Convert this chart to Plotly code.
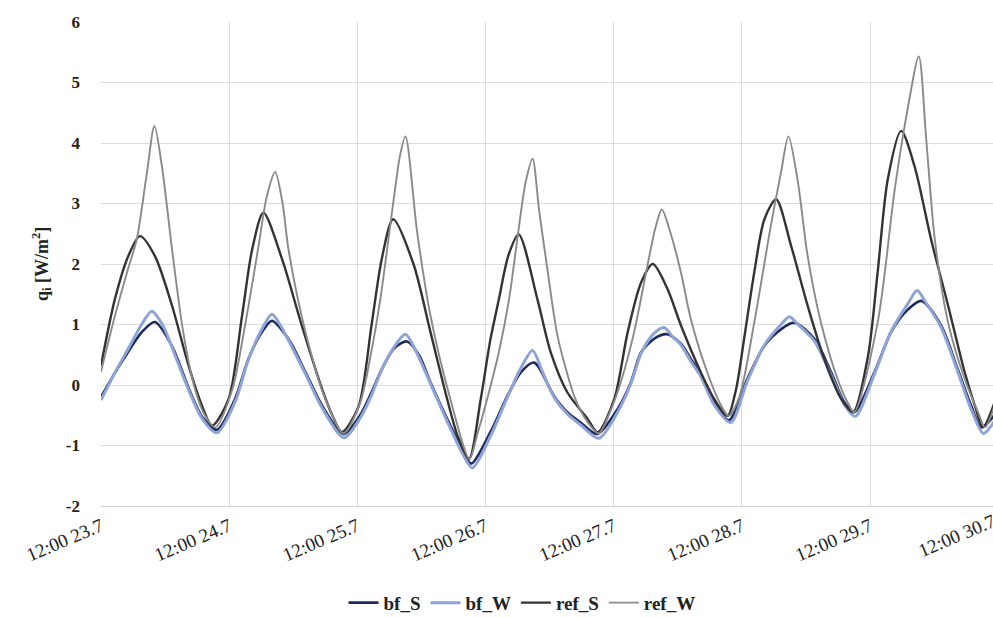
import plotly.graph_objects as go

# time in hours after 12:00 23.7
tick_hours = [0, 24, 48, 72, 96, 120, 144]
tick_labels = ["12:00 23.7", "12:00 24.7", "12:00 25.7", "12:00 26.7",
               "12:00 27.7", "12:00 28.7", "12:00 29.7"]
last_tick_label = "12:00 30.7"
x_end = 167.0
y_ticks = [-2, -1, 0, 1, 2, 3, 4, 5, 6]
y_tick_text = ["-2", "-1", "0", "1", "2", "3", "4", "5", "6"]
y_title = "q<sub>i</sub> [W/m<sup>2</sup>]"

bf_S_t = [0, 2.6, 5.1, 7.6, 10.1, 13.3, 16.4, 18.9, 21.7,
          25.1, 27.6, 30.1, 32.0, 35.1, 38.3, 41.4, 45.4,
          48.5, 50.5, 52.3, 54.8, 57.3, 59.5, 61.7, 64.8, 67.9, 69.3,
          72.9, 76.1, 78.6, 81.1, 84.8, 87.3, 89.8, 92.9,
          96.7, 99.2, 101.1, 103.8, 106.0, 108.6, 110.5, 112.3, 114.8, 117.6,
          121.0, 124.2, 127.3, 129.8, 133.6, 136.7, 139.2, 141.0,
          144.8, 147.9, 151.1, 153.6, 157.3, 160.4, 162.9, 164.8, 167.25]
bf_S_v = [-0.20, 0.20, 0.55, 0.87, 1.04, 0.64, -0.05, -0.52, -0.74,
          -0.23, 0.43, 0.87, 1.06, 0.76, 0.21, -0.34, -0.81,
          -0.50, -0.15, 0.21, 0.60, 0.72, 0.50, 0.04, -0.56, -1.11, -1.30,
          -0.78, -0.18, 0.21, 0.37, -0.18, -0.45, -0.62, -0.81,
          -0.40, 0.04, 0.54, 0.78, 0.84, 0.68, 0.42, 0.18, -0.29, -0.58,
          0.10, 0.65, 0.92, 1.03, 0.76, 0.21, -0.29, -0.45,
          0.21, 0.87, 1.25, 1.39, 0.98, 0.26, -0.34, -0.70, -0.50]

bf_W_t = [0, 2.6, 5.1, 7.6, 9.5, 11.5, 13.3, 16.4, 18.9, 21.7,
          25.1, 27.6, 30.1, 32.0, 33.5, 35.1, 38.3, 41.4, 45.5,
          48.5, 50.5, 52.3, 54.8, 57.0, 59.0, 61.7, 64.8, 67.9, 69.5,
          72.9, 76.1, 78.6, 80.8, 82.5, 84.8, 87.3, 89.8, 93.2,
          96.7, 99.2, 101.1, 103.5, 105.4, 107.0, 108.6, 110.5, 112.3, 114.8, 117.9,
          121.0, 124.2, 127.3, 128.9, 130.5, 133.6, 136.7, 139.2, 141.2,
          144.8, 147.9, 151.1, 152.8, 154.3, 157.3, 160.4, 162.9, 165.2, 167.25]
bf_W_v = [-0.25, 0.20, 0.60, 1.00, 1.22, 1.00, 0.62, -0.08, -0.55, -0.79,
          -0.28, 0.42, 0.92, 1.17, 1.00, 0.74, 0.18, -0.38, -0.87,
          -0.55, -0.20, 0.20, 0.62, 0.84, 0.55, 0.02, -0.60, -1.17, -1.37,
          -0.85, -0.20, 0.28, 0.57, 0.25, -0.20, -0.48, -0.66, -0.88,
          -0.45, 0.02, 0.52, 0.85, 0.95, 0.80, 0.66, 0.38, 0.14, -0.33, -0.62,
          0.06, 0.66, 1.00, 1.13, 1.00, 0.72, 0.16, -0.33, -0.52,
          0.18, 0.88, 1.35, 1.56, 1.38, 0.95, 0.22, -0.40, -0.80, -0.60]

ref_S_t = [0, 2.6, 5.1, 7.3, 10.1, 13.3, 16.4, 18.9, 20.8,
           23.9, 26.4, 28.3, 30.4, 33.9, 37.6, 41.4, 43.3, 45.1,
           48.2, 50.7, 52.6, 54.7, 58.5, 61.7, 64.8, 66.8, 68.9,
           71.1, 72.9, 74.5, 76.3, 78.2, 81.7, 84.2, 87.3, 91.1, 93.0,
           96.1, 98.6, 101.1, 103.3, 106.0, 108.6, 112.3, 114.8, 117.3,
           118.9, 120.4, 122.3, 124.2, 126.4, 129.2, 132.3, 135.4, 138.6, 140.8,
           143.6, 145.4, 147.3, 149.8, 152.3, 155.4, 158.6, 161.7, 163.6, 165.1, 167.25]
ref_S_v = [0.32, 1.42, 2.13, 2.46, 2.13, 1.31, 0.32, -0.34, -0.67,
           -0.23, 1.14, 2.24, 2.85, 2.08, 0.98, -0.07, -0.50, -0.78,
           -0.36, 1.02, 2.10, 2.74, 2.00, 0.87, -0.23, -0.85, -1.22,
           -0.23, 0.75, 1.42, 2.15, 2.49, 1.42, 0.54, -0.12, -0.56, -0.78,
           -0.23, 0.87, 1.69, 2.00, 1.60, 0.98, 0.21, -0.23, -0.51,
           -0.07, 0.76, 1.86, 2.74, 3.07, 2.30, 1.31, 0.43, -0.23, -0.45,
           0.48, 1.86, 3.40, 4.20, 3.62, 2.41, 1.31, 0.21, -0.34, -0.70, -0.30]

ref_W_t = [0, 2.6, 5.0, 6.7, 8.6, 10.0, 11.4, 13.3, 15.4, 17.6, 19.5, 21.4,
           24.5, 27.0, 29.5, 31.0, 32.6, 34.0, 35.1, 38.3, 42.0, 45.4,
           48.5, 50.5, 52.3, 54.8, 56.0, 57.0, 59.2, 61.7, 65.4, 69.0,
           70.5, 72.3, 74.5, 76.4, 78.0, 79.5, 80.8, 82.0, 83.6, 85.5, 88.8, 91.0, 93.2,
           95.5, 97.5, 99.8, 102.3, 103.8, 105.0, 106.5, 108.6, 110.4, 113.5, 116.1, 117.5,
           119.5, 122.3, 125.4, 127.3, 128.7, 130.4, 132.3, 134.8, 137.9, 139.8, 141.0,
           145.4, 148.6, 151.1, 153.1, 154.5, 156.1, 158.6, 161.7, 164.2, 165.5, 167.25]
ref_W_v = [0.22, 1.14, 1.90, 2.41, 3.51, 4.28, 3.62, 2.24, 0.87, -0.07, -0.51, -0.70,
           -0.10, 1.00, 2.30, 3.10, 3.52, 3.00, 2.24, 0.87, -0.23, -0.80,
           -0.30, 0.50, 1.42, 3.07, 3.80, 4.11, 2.52, 1.14, -0.23, -1.22,
           -0.80, -0.23, 0.55, 1.42, 2.45, 3.35, 3.74, 2.90, 1.90, 0.80, -0.23, -0.60, -0.80,
           -0.40, 0.10, 0.87, 1.97, 2.60, 2.90, 2.55, 1.85, 1.10, 0.21, -0.34, -0.51,
           -0.20, 1.03, 2.63, 3.51, 4.11, 3.40, 2.13, 1.03, 0.10, -0.29, -0.45,
           1.03, 3.23, 4.60, 5.43, 4.06, 2.41, 1.03, 0.10, -0.45, -0.70, -0.35]

series = [
    ("bf_S", bf_S_t, bf_S_v, "#1f2a5e", 2.6),
    ("bf_W", bf_W_t, bf_W_v, "#8ea4d6", 3.0),
    ("ref_S", ref_S_t, ref_S_v, "#333333", 2.4),
    ("ref_W", ref_W_t, ref_W_v, "#8a8a8a", 1.9),
]

serif = "Liberation Serif, Times New Roman, serif"
PLOT_L, PLOT_R = 101, 993

fig = go.Figure()
for name, t, v, color, w in series:
    fig.add_trace(go.Scatter(
        x=t, y=v, name=name, mode="lines",
        line=dict(color=color, width=w, shape="spline", smoothing=0.8),
    ))

fig.update_layout(
    width=993, height=618,
    paper_bgcolor="white", plot_bgcolor="white",
    margin=dict(l=PLOT_L, r=993 - PLOT_R, t=22, b=112, autoexpand=False),
    showlegend=True,
    legend=dict(orientation="h", x=0.472, xanchor="center", y=-0.2, yanchor="middle",
                font=dict(family=serif, size=19, color="#222222", weight="bold"),
                itemwidth=30, tracegroupgap=0),
    font=dict(family=serif, color="#222222"),
)

fig.update_yaxes(
    range=[-2, 6], automargin=False,
    tickmode="array", tickvals=y_ticks, ticktext=y_tick_text,
    showgrid=True, gridcolor="#dcdcdc", gridwidth=1,
    zeroline=False, showline=False,
    ticks="", ticklabelstandoff=20,
    tickfont=dict(family=serif, size=17, color="#222222", weight="bold"),
)

fig.update_xaxes(
    range=[0, x_end], automargin=False,
    tickmode="array", tickvals=tick_hours, ticktext=tick_labels,
    tickangle=-23,
    showgrid=True, gridcolor="#dcdcdc", gridwidth=1,
    zeroline=False, showline=True, linecolor="#cfcfcf", linewidth=1,
    ticks="", ticklabelstandoff=1,
    tickfont=dict(family=serif, size=19, color="#222222"),
)

# y-axis title
fig.add_annotation(
    x=(41 - PLOT_L) / (PLOT_R - PLOT_L), y=0.5, xref="paper", yref="paper",
    text=y_title, showarrow=False, textangle=-90,
    xanchor="center", yanchor="middle",
    font=dict(family=serif, size=18, color="#222222", weight="bold"),
)

# last tick label lies just beyond the cropped right edge
fig.add_annotation(
    x=(1001 - PLOT_L) / (PLOT_R - PLOT_L), y=0, xref="paper", yref="paper",
    text=last_tick_label, showarrow=False, textangle=-23,
    xanchor="right", yanchor="top", yshift=-1,
    font=dict(family=serif, size=19, color="#222222"),
)

fig.write_html(
    "out.html",
    config={"displayModeBar": False},
    post_script="document.body.style.margin='0px';document.body.style.overflow='hidden';",
)
